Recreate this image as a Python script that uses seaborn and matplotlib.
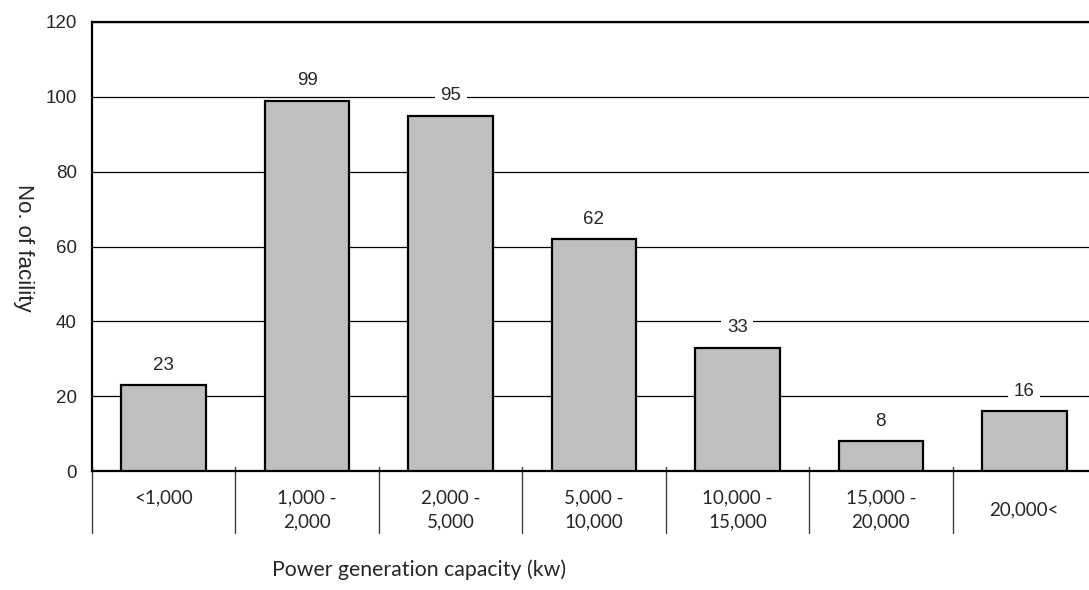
import matplotlib
matplotlib.use("Agg")
import matplotlib.pyplot as plt
import matplotlib.transforms as mtransforms
from matplotlib import font_manager
import seaborn as sns
import pandas as pd

# Chart data
categories = ["<1,000", "1,000 -\n2,000", "2,000 -\n5,000", "5,000 -\n10,000",
              "10,000 -\n15,000", "15,000 -\n20,000", "20,000<"]
facilities = [23, 99, 95, 62, 33, 8, 16]
y_ticks = [0, 20, 40, 60, 80, 100, 120]

df = pd.DataFrame({"capacity": categories, "count": facilities})

sns.set_theme(style="white")
installed = {f.name for f in font_manager.fontManager.ttflist}
num_font = "Liberation Sans Narrow" if "Liberation Sans Narrow" in installed else "Liberation Sans"
cat_font = "Lato"
plt.rcParams["font.family"] = ["Liberation Sans", "DejaVu Sans"]

fig = plt.figure(figsize=(10.89, 5.9), dpi=100)
ax = fig.add_axes([92 / 1089, 1 - 471 / 590, 1004 / 1089, 449 / 590])

sns.barplot(data=df, x="capacity", y="count", color="#BFBFBF", edgecolor="black",
            linewidth=1.6, width=0.59, saturation=1, ax=ax, zorder=3)

ax.set_ylim(0, 120)
ax.set_xlim(-0.5, len(categories) - 0.5)
ax.set_yticks(y_ticks)
ax.set_yticklabels([str(t) for t in y_ticks], fontsize=13.5, family=num_font)
ax.tick_params(axis="y", length=0, pad=11)
ax.yaxis.grid(True, color="black", linewidth=0.9)
ax.set_axisbelow(True)

# category labels under the axis ("<1,000" sits on the first line)
labels = [c + "\n" if c == "<1,000" else c for c in categories]
ax.set_xticks(range(len(categories)))
ax.set_xticklabels(labels, fontsize=13.5, family=cat_font, va="center", linespacing=1.5)
ax.tick_params(axis="x", length=0, pad=28)

# separators between categories
trans = mtransforms.blended_transform_factory(ax.transData, ax.transAxes)
for i in range(len(categories) + 1):
    ax.plot([i - 0.5, i - 0.5], [-0.138, 0.009], transform=trans, color="#404040",
            linewidth=1.0, clip_on=False, zorder=1)

ax.spines["right"].set_visible(False)
for side in ["left", "top", "bottom"]:
    ax.spines[side].set_color("black")
    ax.spines[side].set_linewidth(1.6)

ax.bar_label(ax.containers[0], padding=8, fontsize=13.5, family=num_font,
             bbox=dict(facecolor="white", edgecolor="none", pad=4))

ax.set_ylabel("No. of facility", rotation=270, fontsize=16, va="center")
ax.yaxis.set_label_coords(-0.068, 0.497)
ax.set_xlabel("Power generation capacity (kw)", fontsize=15.3, family=cat_font, va="center")
ax.xaxis.set_label_coords(0.326, -0.22)

fig.savefig("out.png", dpi=100, facecolor="white")
